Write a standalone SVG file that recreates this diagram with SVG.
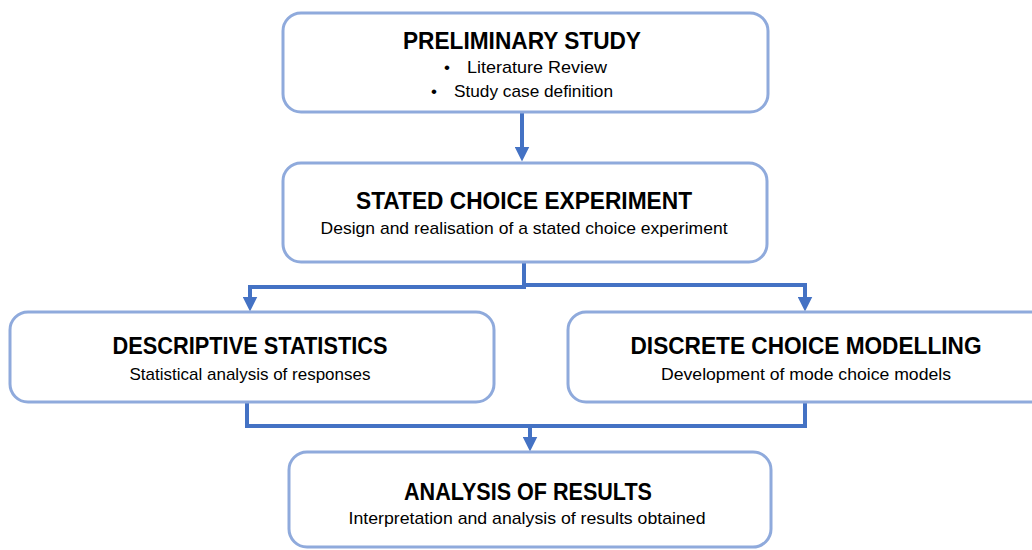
<svg xmlns="http://www.w3.org/2000/svg" width="1032" height="550" viewBox="0 0 1032 550">
  <style>
    .box { fill: #ffffff; stroke: #8FAADC; stroke-width: 3; }
    .title { font-family: "Liberation Sans", Arial, sans-serif; font-weight: bold; font-size: 23px; fill: #000000; text-anchor: middle; }
    .sub { font-family: "Liberation Sans", Arial, sans-serif; font-size: 17px; fill: #000000; text-anchor: middle; }
    .item { font-family: "Liberation Sans", Arial, sans-serif; font-size: 17px; fill: #000000; }
    .link { fill: none; stroke: #4472C4; stroke-width: 4; stroke-linejoin: miter; }
  </style>
  <defs>
    <marker id="arrow" viewBox="0 0 15 15" refX="0.5" refY="7.5" markerWidth="15" markerHeight="15" markerUnits="userSpaceOnUse" orient="auto">
      <path d="M0,0 L15,7.5 L0,15 z" fill="#4472C4"/>
    </marker>
  </defs>

  <rect width="1032" height="550" fill="#ffffff"/>

  <!-- connectors -->
  <g id="connectors">
    <path class="link" d="M522,112 V147" marker-end="url(#arrow)"/>
    <path class="link" d="M524,262 V287 H250 V297" marker-end="url(#arrow)"/>
    <path class="link" d="M524,285 H805 V297" marker-end="url(#arrow)"/>
    <path class="link" d="M247,402 V426 H805 V402"/>
    <path class="link" d="M530,426 V437" marker-end="url(#arrow)"/>
  </g>

  <!-- preliminary study -->
  <g id="node-preliminary">
    <rect class="box" x="283" y="13" width="485" height="99" rx="18"/>
    <text class="title" x="522" y="49" textLength="238" lengthAdjust="spacingAndGlyphs">PRELIMINARY STUDY</text>
    <text class="item" x="444" y="73">•</text>
    <text class="item" x="467" y="73" textLength="140" lengthAdjust="spacingAndGlyphs">Literature Review</text>
    <text class="item" x="431" y="97">•</text>
    <text class="item" x="454" y="97" textLength="159" lengthAdjust="spacingAndGlyphs">Study case definition</text>
  </g>

  <!-- stated choice experiment -->
  <g id="node-experiment">
    <rect class="box" x="283" y="163" width="484" height="99" rx="18"/>
    <text class="title" x="524" y="209" textLength="336" lengthAdjust="spacingAndGlyphs">STATED CHOICE EXPERIMENT</text>
    <text class="sub" x="524" y="234" textLength="407" lengthAdjust="spacingAndGlyphs">Design and realisation of a stated choice experiment</text>
  </g>

  <!-- descriptive statistics -->
  <g id="node-descriptive">
    <rect class="box" x="10" y="312" width="484" height="90" rx="18"/>
    <text class="title" x="250" y="354" textLength="275" lengthAdjust="spacingAndGlyphs">DESCRIPTIVE STATISTICS</text>
    <text class="sub" x="250" y="380" textLength="241" lengthAdjust="spacingAndGlyphs">Statistical analysis of responses</text>
  </g>

  <!-- discrete choice modelling (runs past the right margin) -->
  <g id="node-modelling">
    <rect class="box" x="568" y="312" width="484" height="90" rx="18"/>
    <text class="title" x="806" y="354" textLength="351" lengthAdjust="spacingAndGlyphs">DISCRETE CHOICE MODELLING</text>
    <text class="sub" x="806" y="380" textLength="290" lengthAdjust="spacingAndGlyphs">Development of mode choice  models</text>
  </g>

  <!-- analysis of results -->
  <g id="node-results">
    <rect class="box" x="289" y="452" width="482" height="95" rx="18"/>
    <text class="title" x="528" y="500" textLength="248" lengthAdjust="spacingAndGlyphs">ANALYSIS OF RESULTS</text>
    <text class="sub" x="527" y="524" textLength="357" lengthAdjust="spacingAndGlyphs">Interpretation and analysis of results obtained</text>
  </g>
</svg>
